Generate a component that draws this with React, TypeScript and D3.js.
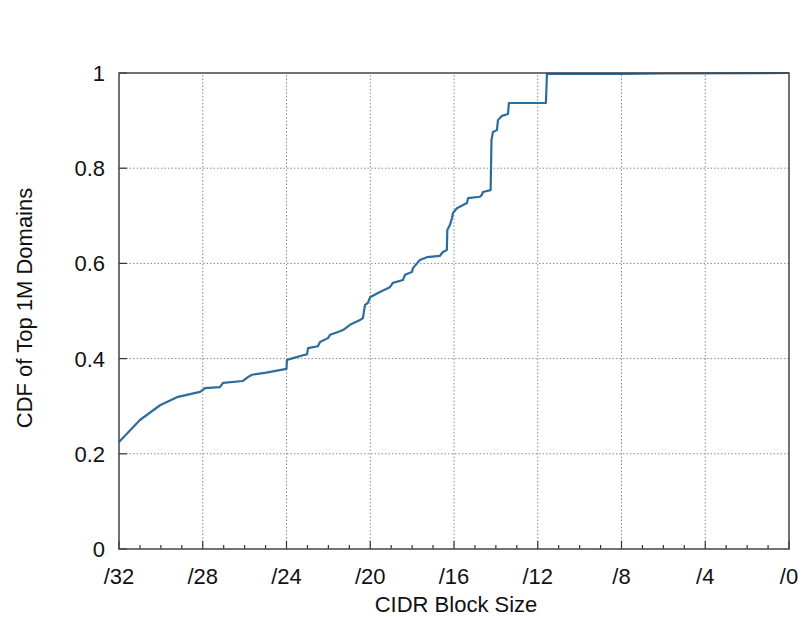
import React, { useRef, useEffect } from "react";
import * as d3 from "d3";

// CIDR prefix length (x) and cumulative share of domains (y)
const prefixes = [
  32, 31.0, 30.04, 29.23, 28.13, 27.89, 27.18, 27.03, 26.08, 25.84, 25.65, 25.03,
  24.07, 24.0, 23.98, 23.69, 23.12, 23.02, 22.97, 22.5, 22.4, 22.02, 21.92, 21.54,
  21.3, 20.97, 20.49, 20.35, 20.25, 20.11, 20.01, 19.54, 19.06, 18.92, 18.44, 18.34,
  18.01, 17.96, 17.63, 17.29, 16.67, 16.53, 16.34, 16.32, 16.19, 16.1, 16.05, 15.86,
  15.38, 15.33, 14.76, 14.67, 14.62, 14.25, 14.21, 14.14, 13.95, 13.9, 13.71, 13.42,
  13.38, 11.61, 11.56, 8.0, 6.0, 0,
];
const cdfValues = [
  0.225, 0.271, 0.302, 0.319, 0.33, 0.338, 0.34, 0.349, 0.353, 0.361, 0.366, 0.37,
  0.378, 0.378, 0.397, 0.401, 0.408, 0.409, 0.422, 0.426, 0.435, 0.443, 0.45, 0.456,
  0.46, 0.471, 0.481, 0.485, 0.513, 0.517, 0.529, 0.54, 0.55, 0.559, 0.565, 0.576,
  0.582, 0.59, 0.607, 0.613, 0.616, 0.624, 0.628, 0.67, 0.681, 0.695, 0.706, 0.716,
  0.727, 0.737, 0.74, 0.744, 0.75, 0.754, 0.859, 0.876, 0.88, 0.901, 0.91, 0.914,
  0.937, 0.937, 0.998, 0.998, 0.999, 1.0,
];

const xTicks = [32, 28, 24, 20, 16, 12, 8, 4, 0];
const xMinorTicks = d3.range(0, 33);
const yTicks = [0, 0.2, 0.4, 0.6, 0.8, 1];

const App = () => {
  const svgRef = useRef<SVGSVGElement>(null);

  useEffect(() => {
    const width = 802, height = 617;
    const margin = { top: 73, right: 13, bottom: 68, left: 119 };
    const font = "'Liberation Sans', Arial, Helvetica, sans-serif";

    const svg = d3.select(svgRef.current)
      .attr("width", width)
      .attr("height", height)
      .style("background", "#fff");

    svg.selectAll("*").remove();

    const x = d3.scaleLinear()
      .domain([32, 0])
      .range([margin.left, width - margin.right]);

    const y = d3.scaleLinear()
      .domain([0, 1])
      .range([height - margin.bottom, margin.top]);

    const x0 = margin.left, x1 = width - margin.right;
    const y0 = height - margin.bottom, y1 = margin.top;

    // grid
    const grid = svg.append("g")
      .attr("stroke", "#8a8a8a")
      .attr("stroke-width", 1)
      .attr("stroke-dasharray", "1.5,2");

    grid.selectAll("line.vx")
      .data(xTicks.slice(1, -1))
      .enter()
      .append("line")
      .attr("x1", d => x(d)).attr("x2", d => x(d))
      .attr("y1", y0).attr("y2", y1);

    grid.selectAll("line.hy")
      .data(yTicks.slice(1, -1))
      .enter()
      .append("line")
      .attr("x1", x0).attr("x2", x1)
      .attr("y1", d => y(d)).attr("y2", d => y(d));

    // ticks (inside)
    const ticks = svg.append("g").attr("stroke", "#333").attr("stroke-width", 1.2);
    ticks.selectAll("line.minor")
      .data(xMinorTicks)
      .enter()
      .append("line")
      .attr("x1", d => x(d)).attr("x2", d => x(d))
      .attr("y1", y0).attr("y2", d => (d % 4 === 0 ? y0 - 8 : y0 - 4));
    ticks.selectAll("line.ytick")
      .data(yTicks)
      .enter()
      .append("line")
      .attr("x1", x0).attr("x2", x0 + 8)
      .attr("y1", d => y(d)).attr("y2", d => y(d));

    // curve
    const points = prefixes.map((p, i) => [p, cdfValues[i]] as [number, number]);
    const line = d3.line<[number, number]>()
      .x(d => x(d[0]))
      .y(d => y(d[1]));

    svg.append("path")
      .datum(points)
      .attr("d", line)
      .attr("fill", "none")
      .attr("stroke", "#2b6d9c")
      .attr("stroke-width", 2.2)
      .attr("stroke-linejoin", "round");

    // frame
    svg.append("rect")
      .attr("x", x0).attr("y", y1)
      .attr("width", x1 - x0).attr("height", y0 - y1)
      .attr("fill", "none")
      .attr("stroke", "#444")
      .attr("stroke-width", 1.5);

    // tick labels
    svg.selectAll("text.xl")
      .data(xTicks)
      .enter()
      .append("text")
      .attr("x", d => x(d))
      .attr("y", y0 + 35)
      .attr("text-anchor", "middle")
      .style("font-family", font)
      .style("font-size", "22px")
      .attr("fill", "#111")
      .text(d => "/" + d);

    svg.selectAll("text.yl")
      .data(yTicks)
      .enter()
      .append("text")
      .attr("x", x0 - 14)
      .attr("y", d => y(d) + 8)
      .attr("text-anchor", "end")
      .style("font-family", font)
      .style("font-size", "22px")
      .attr("fill", "#111")
      .text(d => (d === 0 || d === 1 ? String(d) : d.toFixed(1)));

    // axis titles
    svg.append("text")
      .attr("x", 456)
      .attr("y", 612)
      .attr("text-anchor", "middle")
      .style("font-family", font)
      .style("font-size", "22px")
      .attr("fill", "#111")
      .text("CIDR Block Size");

    svg.append("text")
      .attr("transform", "rotate(-90)")
      .attr("x", -308)
      .attr("y", 32)
      .attr("text-anchor", "middle")
      .style("font-family", font)
      .style("font-size", "22px")
      .attr("fill", "#111")
      .text("CDF of Top 1M Domains");
  }, []);

  return (
    <div style={{ position: "absolute", left: 0, top: 0 }}>
      <svg ref={svgRef}></svg>
    </div>
  );
};

export default App;
